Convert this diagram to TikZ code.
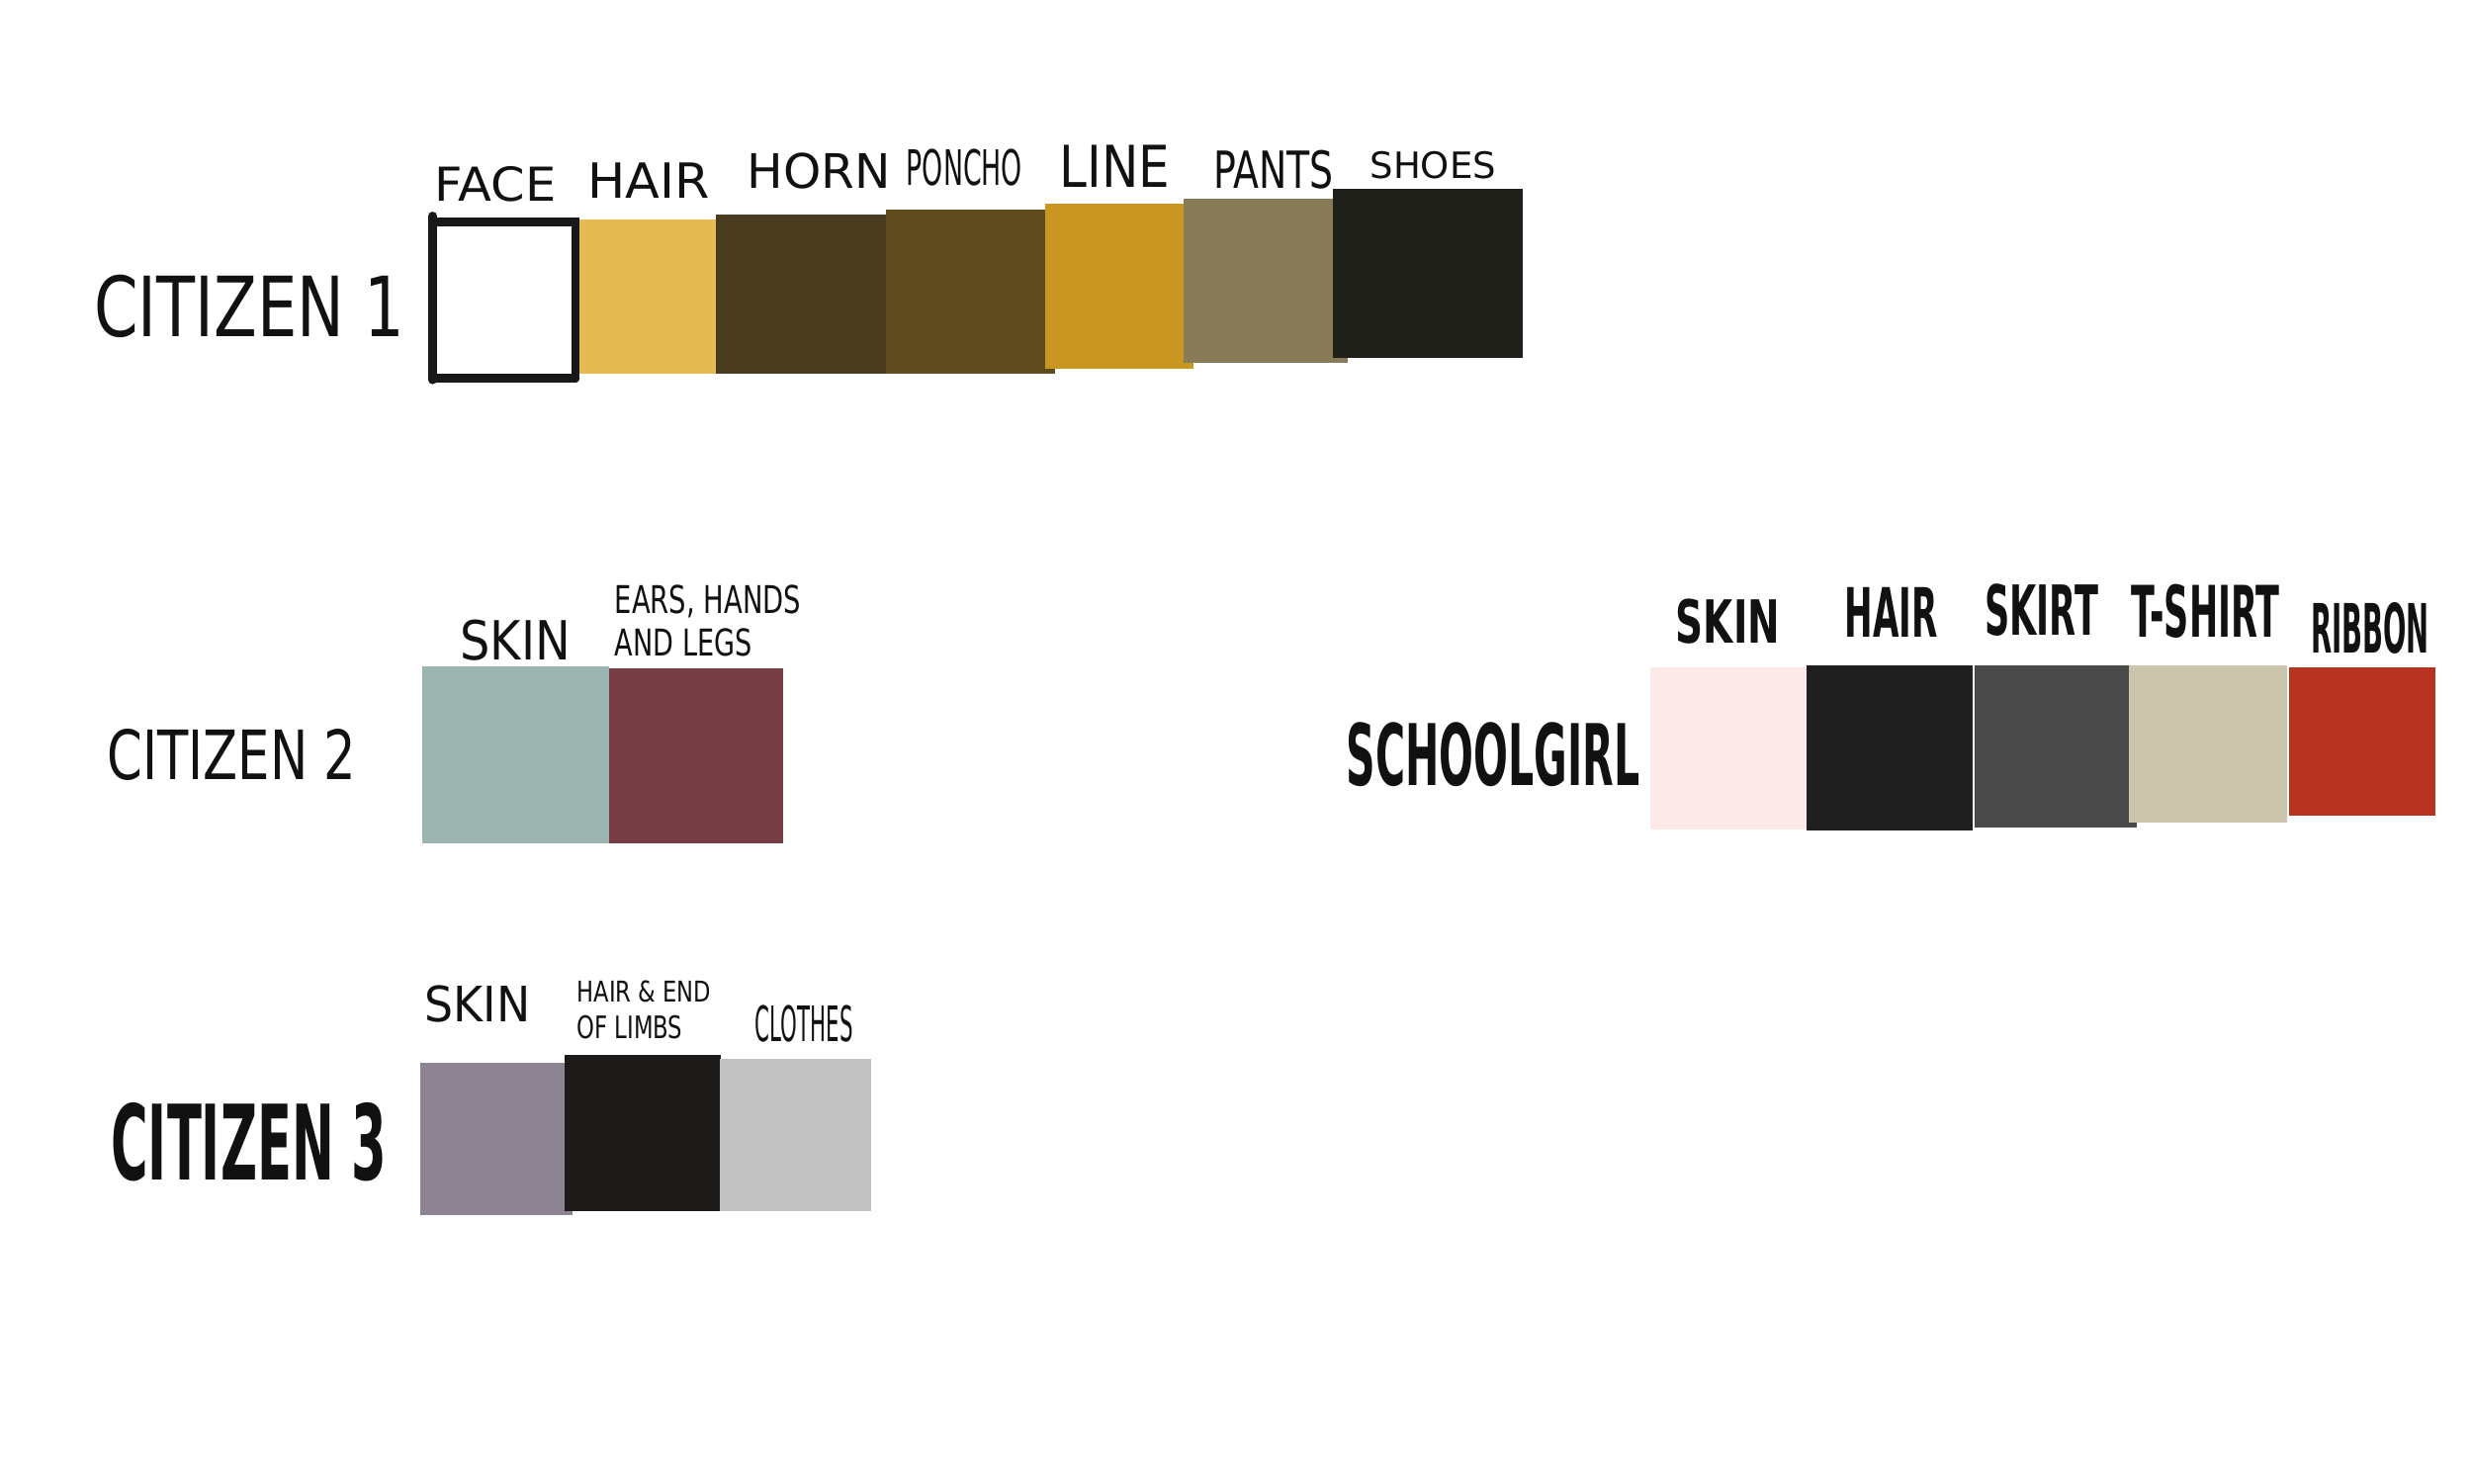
\documentclass[tikz,border=0pt]{standalone}
\usepackage{fontspec}
\setmainfont{DejaVu Sans}
\usepackage{graphicx}
\newlength\ux
\setlength\ux{0.6378pt}
\newcommand\fitt[3]{\resizebox{#1\ux}{#2\ux}{#3}}
\definecolor{ink}{HTML}{111111}
\definecolor{cA}{HTML}{E5BA50}
\definecolor{cB}{HTML}{483B1E}
\definecolor{cC}{HTML}{604B1E}
\definecolor{cD}{HTML}{C99622}
\definecolor{cE}{HTML}{897B58}
\definecolor{cF}{HTML}{20201B}
\definecolor{dA}{HTML}{9DB5B1}
\definecolor{dB}{HTML}{763D44}
\definecolor{eA}{HTML}{8B8292}
\definecolor{eB}{HTML}{1C1B1A}
\definecolor{eC}{HTML}{C1C1C1}
\definecolor{gA}{HTML}{FDEAE8}
\definecolor{gB}{HTML}{1F1F1F}
\definecolor{gC}{HTML}{494949}
\definecolor{gD}{HTML}{CBC5AE}
\definecolor{gE}{HTML}{B93321}
\definecolor{frame}{HTML}{181818}
\tikzset{
  lbl/.style={anchor=base west, inner sep=0pt, outer sep=0pt, text=ink, font=\mdseries},
  heavy/.style={lbl, font=\bfseries},
  facestroke/.style={draw=frame, line width=5.5\ux, line cap=round}
}
\begin{document}
\begin{tikzpicture}[x=0.6378pt, y=-0.6378pt]
\useasboundingbox (0,0) rectangle (1568,941.2);
\fill[white] (0,0) rectangle (1568,941.2);
% ---------- CITIZEN 1 ----------
\node[lbl] (c1) at (59.7,213.7) {\fitt{197}{39.1}{CITIZEN 1}};
\fill[cA] (367,139) rectangle (454,237.3);
\fill[cB] (454,136.3) rectangle (562,237.3);
\fill[cC] (562,132.8) rectangle (669.5,237.3);
\fill[cD] (663,129) rectangle (757,234.1);
\fill[cE] (751,125.9) rectangle (855,230.2);
\fill[cF] (845.5,119.6) rectangle (966,227);
\draw[facestroke] (274.5,137) -- (274.5,241);
\draw[facestroke] (274.5,141) -- (365,141) -- (365,240);
\draw[facestroke] (274.5,240) -- (365,240);
\node[lbl] (c1face) at (275.8,127.5) {\fitt{77}{22}{FACE}};
\node[lbl] (c1hair) at (372.6,125.9) {\fitt{77.4}{22.4}{HAIR}};
\node[lbl] (c1horn) at (474,119.6) {\fitt{91}{22.4}{HORN}};
\node[lbl] (c1poncho) at (575,117.5) {\fitt{73.5}{23}{PONCHO}};
\node[lbl] (c1line) at (672,118.7) {\fitt{70}{26.7}{LINE}};
\node[lbl] (c1pants) at (769.6,119.2) {\fitt{76.4}{24.1}{PANTS}};
\node[lbl] (c1shoes) at (869,113.3) {\fitt{80}{17.1}{SHOES}};
% ---------- CITIZEN 2 ----------
\node[lbl] (c2) at (68,494.3) {\fitt{158}{32}{CITIZEN 2}};
\fill[dA] (268,422.8) rectangle (386.5,534.8);
\fill[dB] (386.5,424) rectangle (496.8,534.8);
\node[lbl] (c2skin) at (291.8,418.4) {\fitt{70}{25.4}{SKIN}};
\node[lbl] (c2ears) at (390,389) {\fitt{118}{18}{EARS, HANDS}};
\node[lbl] (c2legs) at (390,416) {\fitt{87}{17.4}{AND LEGS}};
% ---------- CITIZEN 3 ----------
\node[heavy] (c3) at (70.5,748.3) {\fitt{175}{49}{CITIZEN 3}};
\fill[eA] (266.4,674) rectangle (363,771);
\fill[eB] (358,669) rectangle (457,768);
\fill[eC] (456.4,671.7) rectangle (552.6,768);
\node[lbl] (c3skin) at (269.5,648) {\fitt{67}{23}{SKIN}};
\node[lbl] (c3hair) at (366,635.5) {\fitt{85}{13.5}{HAIR \& END}};
\node[lbl] (c3limbs) at (366,658.6) {\fitt{67}{14.6}{OF LIMBS}};
\node[lbl] (c3clothes) at (479,660.5) {\fitt{62}{23}{CLOTHES}};
% ---------- SCHOOLGIRL ----------
\node[heavy] (sg) at (854,498) {\fitt{186}{40}{SCHOOLGIRL}};
\fill[gA] (1047,423.4) rectangle (1146,526);
\fill[gB] (1146,422) rectangle (1251,527);
\fill[gC] (1252.5,422) rectangle (1355.5,524.8);
\fill[gD] (1350.3,422) rectangle (1450.5,522);
\fill[gE] (1452,423.4) rectangle (1545,517.4);
\node[heavy] (sgskin) at (1063,407.7) {\fitt{66}{28}{SKIN}};
\node[heavy] (sghair) at (1170,404.5) {\fitt{59}{31.5}{HAIR}};
\node[heavy] (sgskirt) at (1259,403) {\fitt{72}{32.5}{SKIRT}};
\node[heavy] (sgshirt) at (1352,404.5) {\fitt{94}{33.5}{T-SHIRT}};
\node[heavy] (sgribbon) at (1466,414.4) {\fitt{75}{32}{RIBBON}};
\end{tikzpicture}
\end{document}
